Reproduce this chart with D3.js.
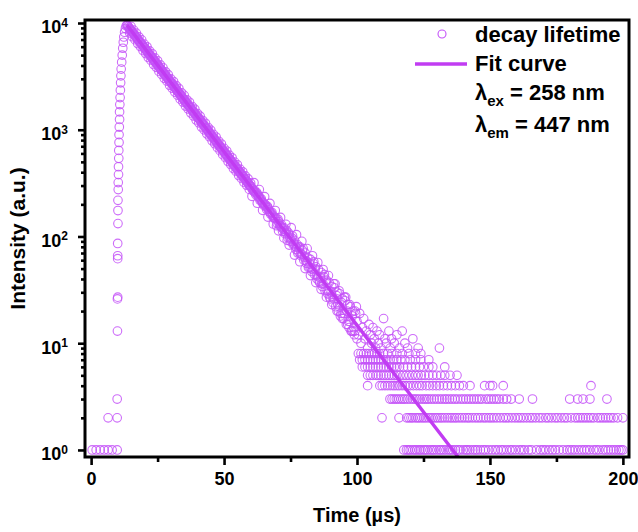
<!DOCTYPE html>
<html>
<head>
<meta charset="utf-8">
<script src="https://cdn.jsdelivr.net/npm/d3@7"></script>
<style>
body{margin:0;background:#fff;}
svg{font-family:"Liberation Sans",Arial,sans-serif;font-weight:bold;}
</style>
</head>
<body>
<svg id="chart" width="638" height="532"></svg>
<script>
// baseline + rising edge, [time, counts]
var riseData = [[0.4,1],[1.9,1],[3.4,1],[4.9,1],[6.4,1],[7.9,1],[9.8,1],[6.4,2],[9.8,2],[9.8,3],
  [9.9,13],[9.9,26],[10,27],[10,62],[10,66],[10,86],[10.1,132],[10.1,175],[10.1,218],[10.2,275],[10.2,320],
  [10.3,380],[10.3,450],[10.4,540],[10.4,640],[10.5,760],[10.5,900],[10.6,1060],[10.7,1250],[10.7,1470],
  [10.8,1720],[10.9,2000],[11,2350],[11.1,2750],[11.2,3200],[11.3,3700],[11.5,4300],[11.7,5000],
  [11.9,5800],[12.1,6600],[12.3,7400],[12.6,8200],[12.9,8900],[13.2,9400]];

// decay part, [time, counts]
var decayData = [[13.5,9600],[14,9250],[14.5,8800],[15,8500],[15.5,8300],[16,7950],[16.5,7600],[17,7380],
  [17.5,7050],[18,6800],[18.5,6600],[19,6300],[19.5,6120],[20,5900],[20.5,5620],[21,5480],[21.5,5200],
  [22,5080],[22.5,4880],[23,4700],[23.5,4500],[24,4380],[24.5,4180],[25,4050],[25.5,3900],[26,3760],
  [26.5,3600],[27,3500],[27.5,3340],[28,3240],[28.5,3100],[29,3010],[29.5,2870],[30,2790],[30.5,2700],
  [31,2560],[31.5,2480],[32,2400],[32.5,2290],[33,2230],[33.5,2130],[34,2070],[34.5,1960],[35,1920],
  [35.5,1830],[36,1790],[36.5,1700],[37,1650],[37.5,1600],[38,1520],[38.5,1480],[39,1420],[39.5,1370],
  [40,1310],[40.5,1280],[41,1230],[41.5,1170],[42,1140],[42.5,1100],[43,1040],[43.5,1020],[44,980],
  [44.5,930],[45,910],[45.5,870],[46,845],[46.5,800],[47,785],[47.5,745],[48,728],[48.5,690],[49,675],
  [49.5,640],[50,628],[50.5,595],[51,580],[51.5,550],[52,540],[52.5,512],[53,500],[53.5,472],[54,465],
  [54.5,440],[55,430],[55.5,408],[56,402],[56.5,378],[57,372],[57.5,350],[58,346],[58.5,325],[59,320],
  [59.5,302],[60,296],[60.5,280],[61,268],[61.5,270],[62,245],[62.5,250],[63,240],[63.5,218],[64,225],
  [64.5,205],[65,196],[65.5,199],[66,180],[66.5,186],[67,170],[67.5,162],[68,168],[68.5,150],[69,147],
  [69.5,150],[70,132],[70.5,138],[71,125],[71.5,130],[72,112],[72.5,121],[73,106],[73.5,114],[74,98],
  [74.5,104],[75,90],[75.5,97],[76,84],[76.5,92],[77,76],[77.5,84],[78,72],[78.5,80],[79,66],[79.5,74],
  [80,60],[80.5,70],[81,56],[81.5,63],[82,52],[82.5,61],[83,47],[83.5,56],[84,44],[84.5,52],[85,40],
  [85.5,49],[86,37],[86.5,46],[87,34],[87.5,42],[88,31],[88.5,39],[89,29],[89.5,37],[90,26],[90.5,34],
  [91,24],[91.5,33],[92,22],[92.5,30],[93,20],[93.5,29],[94,19],[94.5,26],[95,17],[95.5,25],[96,15],
  [96.5,23],[97,14],[97.5,22],[98,13],[98.5,20],[99,12],[99.5,19],[100,11]];

// channels in between (quarter steps)
var decayData2 = [[13.75,9450],[14.25,9000],[14.75,8700],[15.25,8350],[15.75,8050],[16.25,7800],[16.75,7450],
  [17.25,7200],[17.75,6950],[18.25,6650],[18.75,6450],[19.25,6250],[19.75,5950],[20.25,5800],[20.75,5550],
  [21.25,5350],[21.75,5150],[22.25,4950],[22.75,4800],[23.25,4600],[23.75,4450],[24.25,4280],[24.75,4100],
  [25.25,3980],[25.75,3820],[26.25,3680],[26.75,3540],[27.25,3420],[27.75,3290],[28.25,3160],[28.75,3050],
  [29.25,2930],[29.75,2830],[30.25,2720],[30.75,2630],[31.25,2520],[31.75,2440],[32.25,2340],[32.75,2260],
  [33.25,2170],[33.75,2100],[34.25,2010],[34.75,1940],[35.25,1870],[35.75,1800],[36.25,1740],[36.75,1670],
  [37.25,1620],[37.75,1550],[38.25,1500],[38.75,1440],[39.25,1400],[39.75,1340],[40.25,1290],[40.75,1250],
  [41.25,1200],[41.75,1160],[42.25,1110],[42.75,1070],[43.25,1030],[43.75,995],[44.25,955],[44.75,920],
  [45.25,885],[45.75,855],[46.25,820],[46.75,795],[47.25,760],[47.75,735],[48.25,705],[48.75,680],
  [49.25,655],[49.75,632],[50.25,610],[50.75,585],[51.25,565],[51.75,545],[52.25,525],[52.75,505],
  [53.25,488],[53.75,468],[54.25,452],[54.75,436],[55.25,420],[55.75,404],[56.25,390],[56.75,376],
  [57.25,362],[57.75,348],[58.25,336],[58.75,324],[59.25,311],[59.75,300],[60.25,290],[60.75,278],
  [61.25,263],[61.75,256],[62.75,238],[63.25,232],[63.75,222],[64.75,206],[65.25,200],[65.75,190],
  [66.75,178],[67.25,170],[67.75,165],[68.75,152],[69.25,148],[70.75,131],[71.25,126],[71.75,121],
  [72.75,112],[73.25,108],[74.75,96],[75.25,93],[76.75,81],[77.25,79],[78.75,69],[79.25,68],[80.75,59],
  [81.25,58],[82.75,50],[83.25,49],[84.75,43],[85.25,42],[86.75,36],[87.25,36],[88.75,31],[89.25,31],
  [90.75,27],[91.25,26],[92.75,23],[93.25,22],[94.75,19],[95.25,19],[96.75,16],[97.25,16],[98.75,14],
  [99.25,13]];

// points sitting on the upper / lower edge of the band
var bandUpper = [[15,9310],[16,8580],[17,8050],[18,7400],[19,6950],[20,6350],[21,5990],[22,5480],[23,5150],
  [24,4720],[25,4430],[26,4060],[27,3820],[28,3490],[29,3280],[30,3000],[31,2830],[32,2590],[33,2440],
  [34,2220],[35,2100],[36,1910],[37,1810],[38,1650],[39,1560],[40,1420],[41,1340],[42,1220],[43,1150],
  [44,1050],[45,990],[46,905],[47,855],[48,780],[49,735],[50,670],[51,632],[52,578],[53,546],[54,498],
  [55,470],[56,428],[57,404],[58,369],[59,348],[60,316],[61.25,319],[63.25,275],[65.25,236],[67.25,204],
  [69.25,175],[71.25,151],[73.25,130],[75.25,121],[77.25,104],[79.25,90],[81.25,77],[83.25,66],[85.25,57],
  [87.25,49],[89.25,43],[91.25,36],[93.25,31],[95.25,27],[97.25,23],[99.25,20]];
var bandLower = [[14.5,8065],[15.5,7440],[16.5,6980],[17.5,6410],[18.5,6010],[19.5,5520],[20.5,5170],
  [21.5,4750],[22.5,4460],[23.5,4090],[24.5,3840],[25.5,3520],[26.5,3300],[27.5,3030],[28.5,2850],
  [29.5,2610],[30.5,2450],[31.5,2250],[32.5,2110],[33.5,1935],[34.5,1815],[35.5,1665],[36.5,1565],
  [37.5,1435],[38.5,1345],[39.5,1235],[40.5,1160],[41.5,1062],[42.5,998],[43.5,915],[44.5,860],[45.5,788],
  [46.5,740],[47.5,679],[48.5,637],[49.5,584],[50.5,548],[51.5,503],[52.5,473],[53.5,433],[54.5,407],
  [55.5,373],[56.5,350],[57.5,321],[58.5,302],[59.5,276],[60.5,238],[62.5,205],[64.5,176],[66.5,152],
  [68.5,131],[70.5,113],[72.5,97],[74.5,83],[76.5,67],[78.5,58],[80.5,50],[82.5,43],[84.5,37],[86.5,32],
  [88.5,27],[90.5,23],[92.5,20],[94.5,17],[96.5,15],[98.5,13]];

// extra scatter inside the noisy part of the band
var scatterData = [[62.25,258],[64.25,212],[66.25,192],[68.25,158],[70.25,145],[72.25,118],[74.25,108],
  [76.25,86],[78.25,79],[80.25,64],[82.25,55],[84.25,50],[86.25,41],[88.25,38],[90.25,30],[92.25,28],
  [94.25,24],[96.25,20],[98.25,18],[75.75,101],[79.75,77],[83.75,58],[87.75,44],[91.75,36],[95.75,27],
  [99.75,22],[73.75,92],[77.75,70],[81.75,51],[85.75,38],[89.75,27],[93.75,18],[97.75,13],[69.75,126],
  [100,16],[100.5,12],[101,19],[101.5,10],[102,14],[102.5,17],[103,11],[103.5,13],[104,9],[104.5,15],
  [105,12],[105.5,10],[106,14],[106.5,11],[107,9],[107.5,13],[108,10],[108.5,12],[109,9],[110,17],
  [110.5,11],[111,10],[112,13],[112.5,9],[113,11],[114,10],[115,12],[116,9],[117,13],[118,10],[119,9],
  [121,11],[123,9],[131,9]];

// low count tail, times where a given count shows up
var level1 = [117.6,118.6,119.3,120,121,121.8,122.5,123.4,124,125,125.7,126.5,127.5,128.3,129,130,131,131.7,
  132.6,133.5,134.5,135.2,136,137,138,138.8,140,141,141.6,142.5,143.6,144.5,145.3,146.4,147.5,148.3,149.5,
  150.8,152,153,154.2,155,156.3,157.5,158.4,159.6,161,162,163,164.5,165.6,167.5,169,170,171,172.3,173.5,
  174.6,176,177.5,179,180,181,182,183.3,184.5,185.5,186.5,187.5,189,190,191,192.5,193.5,194.5,195.5,196.5,
  197.5,198.5,199.3,200];
var level2 = [109.4,115.8,118.7,119.5,120.3,121,122,122.8,123.5,124.4,125.2,126,127,127.8,128.6,129.5,130.3,
  131.2,132,133,134,135,135.8,136.7,137.5,138.5,139.5,140.5,141.5,142.3,143.4,144.5,145.5,146.5,147.6,148.5,
  149.6,150.5,151.5,152.6,153.8,155,156,157,158.2,159.4,160.5,161.5,162.6,163.8,165,166,167.2,168.5,169.6,
  171,172,173.2,174.5,175.5,176.8,178,179,180.5,182,183,184,185,186,187,188,189,190.5,191.5,192.5,193.5,
  194.5,195.5,196.5,198,200];
var level3 = [112.4,113.2,114,114.8,115.6,116.5,117.3,118,119,120,121,121.8,122.6,123.5,124.5,125.4,126.2,127,
  128,129,130,131,132,133,133.8,134.8,135.8,136.8,137.8,139,140,141,142,143,144,145,146,147,148.5,149.5,
  150.5,151.5,152.5,153.5,155,156.3,158,161,166,180,183,185,187.6,194];
var level4 = [104,108.6,109.5,110.5,111.5,112.5,113.5,114.3,115.2,116,117,118,119,120,121.2,122.4,123.5,124.5,
  126,127.2,128.5,129.8,131,132.5,134,135.5,137,138.5,140,142.5,148,150,151,155,188];
var level5 = [104,105,106,107.2,108,109,110,111,112,113,114,115,116.2,117.4,118.5,119.6,120.8,122,123,124.2,
  125.5,127,128.5,130,131.5,133,135,137.6];
var level6 = [102,103,104,105,106,107,108,109,110,111,112,113,114,115,116,117.5,119,120.5,122,123.5,125,127,
  128.5,133];
var level7 = [101,102,103,104,105,106,107,108,109,110,111.2,112.5,113.8,115,116.5,118,120,122,124,127];
var level8 = [100.5,101.5,102.5,103.5,104.5,105.5,106.5,107.5,108.5,110,111.5,113,115,117,119.5,122,124];
var levels = [level1, level2, level3, level4, level5, level6, level7, level8];

// fit curve (single exponential)
var fitT = [13.5, 30, 50, 70, 90, 110, 130, 138];
var fitY = [9550, 2780, 622, 139, 31.2, 6.98, 1.56, 0.86];

var xTicks = [0, 50, 100, 150, 200];
var xMinor = [25, 75, 125, 175];
var yTicks = [1, 10, 100, 1000, 10000];

var markerColor = '#c452f8';
var fitColor = '#c13cf2';

var svg = d3.select('#chart');
var plotL = 85, plotR = 629, plotT = 20, plotB = 457;

var x = d3.scaleLinear().domain([-2.3, 202.3]).range([plotL, plotR]);
var y = d3.scaleLog().domain([0.859, 10670]).range([plotB, plotT]);

var yMinor = [];
yTicks.forEach(function(d){
    for (var k = 2; k <= 9; k++) {
        if (d * k < 10670) yMinor.push(d * k);
    }
});

// all points together
var points = riseData.concat(decayData, decayData2, bandUpper, bandLower, scatterData);
levels.forEach(function(times, i){
    times.forEach(function(t){ points.push([t, i + 1]); });
});

svg.append('clipPath').attr('id', 'plotclip')
    .append('rect').attr('x', plotL).attr('y', plotT)
    .attr('width', plotR - plotL).attr('height', plotB - plotT);

svg.append('g')
    .selectAll('circle')
    .data(points)
    .enter()
  .append('circle')
    .attr('cx', function(d){ return x(d[0]); })
    .attr('cy', function(d){ return y(d[1]); })
    .attr('r', 4.3)
    .style('fill', 'none')
    .style('stroke', markerColor)
    .style('stroke-opacity', 0.85)
    .style('stroke-width', 1.1);

var line = d3.line()
    .x(function(d){ return x(d); })
    .y(function(d, i){ return y(fitY[i]); });

svg.append('path')
    .attr('clip-path', 'url(#plotclip)')
    .attr('d', line(fitT))
    .style('fill', 'none')
    .style('stroke', fitColor)
    .style('stroke-width', 3.4);

// axes
var xAxis = svg.append('g').attr('transform', 'translate(0,' + plotB + ')')
    .call(d3.axisBottom(x).tickValues(xTicks).tickSize(8).tickPadding(7));
svg.append('g').attr('transform', 'translate(0,' + plotB + ')')
    .call(d3.axisBottom(x).tickValues(xMinor).tickSize(5).tickFormat(''));

var yAxis = svg.append('g').attr('transform', 'translate(' + plotL + ',0)')
    .call(d3.axisLeft(y).tickValues(yTicks).tickSize(7).tickPadding(10));
svg.append('g').attr('transform', 'translate(' + plotL + ',0)')
    .call(d3.axisLeft(y).tickValues(yMinor).tickSize(4).tickFormat(''));

svg.selectAll('.domain').remove();
svg.selectAll('.tick line').style('stroke', '#000').style('stroke-width', 2.6);

xAxis.selectAll('.tick text')
    .style('font-size', '18px').style('font-weight', 'bold')
    .style('font-family', '"Liberation Sans",Arial,sans-serif').attr('fill', '#000');

yAxis.selectAll('.tick text')
    .text(null)
    .attr('dy', '0.55em')
    .style('font-size', '18px').style('font-weight', 'bold')
    .style('font-family', '"Liberation Sans",Arial,sans-serif').attr('fill', '#000')
    .each(function(d){
        var t = d3.select(this);
        t.append('tspan').text('10');
        t.append('tspan').attr('dy', '-0.55em').style('font-size', '12px')
            .text(Math.round(Math.log10(d)));
    });

// frame
svg.append('rect')
    .attr('x', plotL).attr('y', plotT)
    .attr('width', plotR - plotL).attr('height', plotB - plotT)
    .style('fill', 'none').style('stroke', '#000').style('stroke-width', 3);

// axis titles
svg.append('text')
    .attr('x', (plotL + plotR) / 2).attr('y', 522)
    .attr('text-anchor', 'middle')
    .style('font-size', '20px')
    .text('Time (µs)');

svg.append('text')
    .attr('transform', 'translate(25,' + ((plotT + plotB) / 2) + ') rotate(-90)')
    .attr('text-anchor', 'middle')
    .style('font-size', '21px')
    .text('Intensity (a.u.)');

// legend
var legend = svg.append('g').style('font-size', '22px');
legend.append('circle').attr('cx', 442).attr('cy', 34).attr('r', 4)
    .style('fill', 'none').style('stroke', markerColor).style('stroke-width', 1.1);
legend.append('text').attr('x', 475).attr('y', 42).text('decay lifetime');
legend.append('line').attr('x1', 415).attr('x2', 467).attr('y1', 64).attr('y2', 64)
    .style('stroke', fitColor).style('stroke-width', 3.4);
legend.append('text').attr('x', 475).attr('y', 71).text('Fit curve');

var ex = legend.append('text').attr('x', 475).attr('y', 100);
ex.append('tspan').text('λ');
ex.append('tspan').attr('dy', 6).style('font-size', '15px').text('ex');
ex.append('tspan').attr('dy', -6).text(' = 258 nm');

var em = legend.append('text').attr('x', 475).attr('y', 132);
em.append('tspan').text('λ');
em.append('tspan').attr('dy', 6).style('font-size', '15px').text('em');
em.append('tspan').attr('dy', -6).text(' = 447 nm');
</script>
</body>
</html>
